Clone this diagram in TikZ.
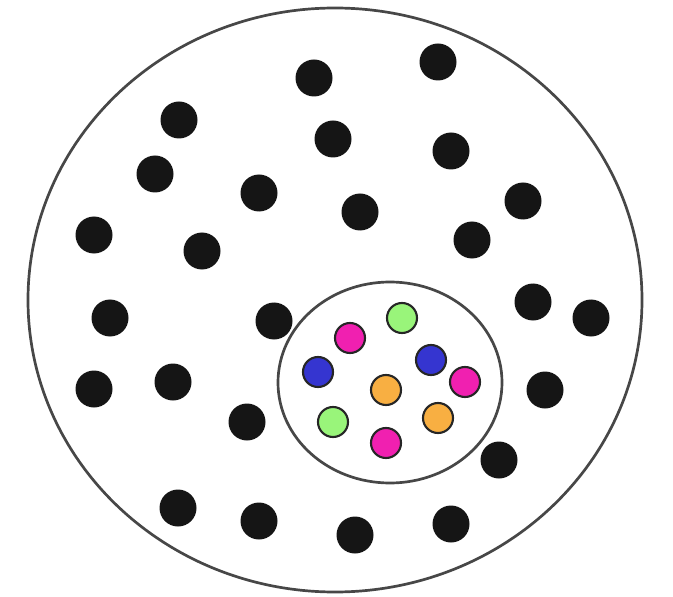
\documentclass[tikz,border=0pt]{standalone}
\begin{document}
\begin{tikzpicture}[x=0.03cm,y=-0.03cm,
  blackdot/.style={circle,fill=dotblack,inner sep=0pt,minimum size=1.11cm},
  cdot/.style={circle,draw=black!85,line width=1.8pt,inner sep=0pt,minimum size=0.9cm,fill=#1},
  ring/.style={draw=black!72,line width=2.3pt}]
\definecolor{dotblack}{HTML}{151515}
\definecolor{cgreen}{HTML}{99F57A}
\definecolor{cmag}{HTML}{F020B0}
\definecolor{cblue}{HTML}{3535D0}
\definecolor{corange}{HTML}{F8AF42}
\useasboundingbox (0,0) rectangle (673,597);
\draw[ring] (335,300) ellipse [x radius=307, y radius=292];
\draw[ring] (390,382.5) ellipse [x radius=112, y radius=100.5];
% black dots
\node[blackdot] (b1) at (314,78) {};
\node[blackdot] (b2) at (438,62) {};
\node[blackdot] (b3) at (179,120) {};
\node[blackdot] (b4) at (333,139) {};
\node[blackdot] (b5) at (451,151) {};
\node[blackdot] (b6) at (155,174) {};
\node[blackdot] (b7) at (259,193) {};
\node[blackdot] (b8) at (360,212) {};
\node[blackdot] (b9) at (523,201) {};
\node[blackdot] (b10) at (94,235) {};
\node[blackdot] (b11) at (202,251) {};
\node[blackdot] (b12) at (472,240) {};
\node[blackdot] (b13) at (110,318) {};
\node[blackdot] (b14) at (274,321) {};
\node[blackdot] (b15) at (533,302) {};
\node[blackdot] (b16) at (591,318) {};
\node[blackdot] (b17) at (94,389) {};
\node[blackdot] (b18) at (173,382) {};
\node[blackdot] (b19) at (247,422) {};
\node[blackdot] (b20) at (545,390) {};
\node[blackdot] (b21) at (499,460) {};
\node[blackdot] (b22) at (178,508) {};
\node[blackdot] (b23) at (259,521) {};
\node[blackdot] (b24) at (355,535) {};
\node[blackdot] (b25) at (451,524) {};
% coloured dots
\node[cdot=cgreen] (g1) at (402,318) {};
\node[cdot=cmag] (m1) at (350,338) {};
\node[cdot=cblue] (u1) at (318,372) {};
\node[cdot=cblue] (u2) at (431,360) {};
\node[cdot=cmag] (m2) at (465,382) {};
\node[cdot=corange] (o1) at (386,390) {};
\node[cdot=cgreen] (g2) at (333,422) {};
\node[cdot=cmag] (m3) at (386,443) {};
\node[cdot=corange] (o2) at (438,418) {};
\end{tikzpicture}
\end{document}
